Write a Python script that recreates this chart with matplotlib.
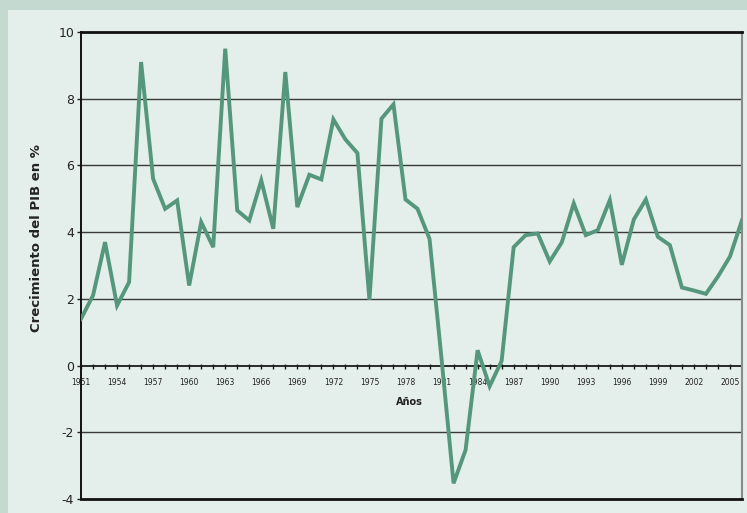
import matplotlib
matplotlib.use("Agg")
import matplotlib.pyplot as plt
from matplotlib.patches import Rectangle
from matplotlib import font_manager

# years on the x axis
years = list(range(1951, 2007))

# GDP growth in %
growth = [
    1.4, 2.1, 3.7, 1.8, 2.5, 9.1, 5.6, 4.7, 4.95, 2.4,
    4.3, 3.55, 9.5, 4.65, 4.35, 5.55, 4.1, 8.8, 4.75, 5.72,
    5.58, 7.38, 6.78, 6.37, 1.97, 7.4, 7.83, 4.98, 4.7, 3.8,
    0.2, -3.53, -2.53, 0.46, -0.62, 0.14, 3.55, 3.91, 3.96, 3.12,
    3.69, 4.86, 3.91, 4.06, 4.96, 3.02, 4.38, 4.98, 3.86, 3.61,
    2.34, 2.25, 2.15, 2.67, 3.27, 4.36,
]

yticks = [-4, -2, 0, 2, 4, 6, 8, 10]
label_years = [y for y in years if (y - 1951) % 3 == 0]

# pick a narrow face if one is there
installed = {f.name for f in font_manager.fontManager.ttflist}
font = [f for f in ["Liberation Sans Narrow", "DejaVu Sans Condensed"] if f in installed]
font += ["DejaVu Sans"]
plt.rcParams["font.family"] = font
print(font)

outer_color = "#c4d9d0"
inner_color = "#e4eeea"
line_color = "#55977d"

fig = plt.figure(figsize=(7.47, 5.13), dpi=100)
fig.patch.set_facecolor(inner_color)

# outer frame bands (top and left)
fig.add_artist(Rectangle((0, 1 - 10 / 513), 1, 10 / 513, transform=fig.transFigure,
                         facecolor=outer_color, edgecolor="none", zorder=0))
fig.add_artist(Rectangle((0, 0), 8 / 747, 1, transform=fig.transFigure,
                         facecolor=outer_color, edgecolor="none", zorder=0))

ax = fig.add_axes([81 / 747, 14 / 513, 661 / 747, 467 / 513])
ax.set_facecolor(inner_color)

idx = list(range(len(years)))
ax.plot(idx, growth, color=line_color, lw=2.8, solid_joinstyle="miter", zorder=3)

ax.set_xlim(0, len(years) - 1)
ax.set_ylim(-4, 10)

# grid lines
for v in yticks:
    if v in (-4, 10):
        continue
    ax.axhline(v, color="#1a1a1a" if v == 0 else "#3a3a3a", lw=1.3 if v == 0 else 1.0, zorder=1)

# year tick marks on the zero line
ax.vlines(idx, -0.09, 0.04, color="#1a1a1a", lw=1.0, zorder=2)

# year labels under the zero line
for y in label_years:
    ax.text(y - 1951, -0.5, str(y), ha="center", va="center", fontsize=5.5,
            color="#222222", zorder=2)

ax.text(27.3, -1.1, "Años", ha="center", va="center",
        fontsize=7, fontweight="bold", color="#222222")

ax.set_xticks([])
ax.set_yticks(yticks)
ax.set_yticklabels([str(v) for v in yticks], fontsize=9, color="#222222")
ax.tick_params(axis="y", length=3, width=1, pad=2, color="#222222")

for side in ("top", "bottom"):
    ax.spines[side].set_linewidth(2)
    ax.spines[side].set_color("#111111")
ax.spines["left"].set_linewidth(1.4)
ax.spines["left"].set_color("#111111")
ax.spines["right"].set_linewidth(1.5)
ax.spines["right"].set_color("#8a8a8a")

fig.text(37 / 747, 1 - 238 / 513, "Crecimiento del PIB en %", rotation=90,
         ha="center", va="center", fontsize=9.5, fontweight="bold", color="#222222")

fig.savefig("out.png", dpi=100, facecolor=fig.get_facecolor())
